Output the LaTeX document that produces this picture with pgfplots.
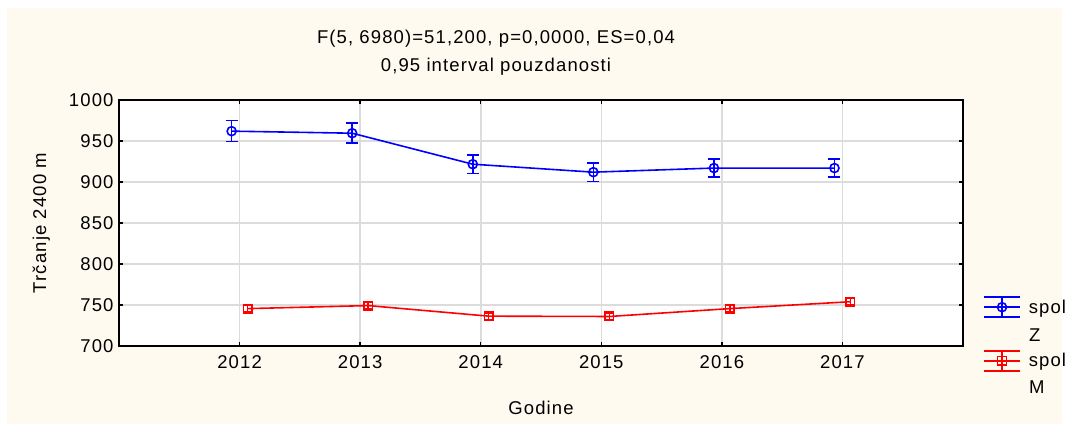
\documentclass[border=0pt]{standalone}
\usepackage{pgfplots}
\pgfplotsset{compat=1.18}
\usepackage{fontspec}
\setmainfont{Liberation Sans}[LetterSpace=6]
\definecolor{cream}{RGB}{254,250,239}
\definecolor{gridgray}{RGB}{220,220,220}
\newcommand\f{\fontsize{18.5bp}{28bp}\selectfont}
\begin{document}
\begin{tikzpicture}[x=1bp,y=1bp]
\fill[white] (0,0) rectangle (1069,430);
\fill[cream] (7,6) rectangle (1062,422);
\node[font=\f,anchor=base] at (496,386.7) {F(5, 6980)=51,200, p=0,0000, ES=0,04};
\node[font=\f,anchor=base] at (496,359) {0,95 interval pouzdanosti};
\begin{axis}[
  at={(119bp,84bp)}, anchor=south west,
  scale only axis, width=844bp, height=246bp,
  xmin=2011, xmax=2018, ymin=700, ymax=1000,
  xtick={2012,2013,2014,2015,2016,2017},
  ytick={700,750,800,850,900,950,1000},
  /pgf/number format/.cd, 1000 sep={}, assume math mode=true, /pgfplots/.cd,
  tick label style={font=\f},
  label style={font=\f},
  axis background/.style={fill=white},
  grid=major, grid style={gridgray, line width=1.6bp},
  axis line style={black, line width=1.8bp},
  major tick length=4bp, tick style={black, line width=1.5bp},
  xticklabel style={yshift=-6bp},
  yticklabel style={xshift=-2bp},
  xlabel={Godine}, ylabel={Trčanje 2400 m},
  xlabel style={at={(axis description cs:0.5,-0.252)}, anchor=center},
  ylabel style={at={(axis description cs:-0.092,0.5)}, anchor=center},
  legend style={draw=none, fill=none, at={(axis description cs:1.0237,0.2025)}, anchor=north west,
    inner sep=0pt, row sep=32bp, font=\f},
  legend cell align=left,
  legend image code/.code={
    \draw[#1, mark=none] (0bp,0bp) -- (36bp,0bp);
    \draw[#1, mark=none] (0bp,10bp) -- (36bp,10bp);
    \draw[#1, mark=none] (0bp,-10bp) -- (36bp,-10bp);
    \draw[#1, mark=none] (18bp,-10bp) -- (18bp,10bp);
    \draw[#1] plot coordinates {(18bp,0bp)};
  },
]
\addplot[blue, line width=1.6bp, mark=o, mark size=4.5bp, mark options={line width=1.6bp},
  error bars/.cd, y dir=both, y explicit, error bar style={line width=1.6bp},
  error mark options={rotate=90, mark size=6bp, line width=1.6bp}]
  coordinates {
  (2011.934,962) +- (0,12.8)
  (2012.934,959.5) +- (0,12.3)
  (2013.934,921.7) +- (0,11.4)
  (2014.934,912) +- (0,11.2)
  (2015.934,917) +- (0,11.2)
  (2016.934,917) +- (0,11.2)
  };
\addlegendentry{\hspace{6bp}spol}
\addplot[red, line width=1.6bp, mark=square, mark size=4.3bp, mark options={line width=1.4bp},
  error bars/.cd, y dir=both, y explicit, error bar style={line width=1.4bp},
  error mark options={rotate=90, mark size=5bp, line width=1.4bp}]
  coordinates {
  (2012.066,745.6) +- (0,4)
  (2013.066,749.3) +- (0,4)
  (2014.066,736.4) +- (0,3.8)
  (2015.066,736.0) +- (0,3.8)
  (2016.066,745.6) +- (0,4)
  (2017.066,754.0) +- (0,4)
  };
\addlegendentry{\hspace{6bp}spol}
\end{axis}
\node[font=\f,anchor=base west,inner sep=0pt] at (1029,89) {Z};
\node[font=\f,anchor=base west,inner sep=0pt] at (1029,37) {M};
\pgfresetboundingbox
\useasboundingbox (0,0) rectangle (1069,430);
\end{tikzpicture}
\end{document}
